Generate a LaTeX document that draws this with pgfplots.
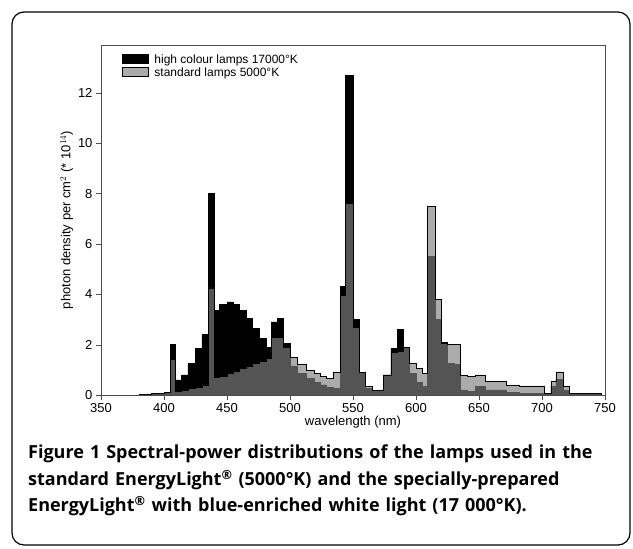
\documentclass[border=0pt]{standalone}
\usepackage{pgfplots}
\pgfplotsset{compat=1.18}
\usepackage{fontspec}
\setmainfont{Liberation Sans}
\newfontfamily\capfont{Open Sans}
\begin{document}
\begin{tikzpicture}[x=1pt,y=1pt]
\useasboundingbox (0,0) rectangle (633,549);
\draw[line width=1.2pt, rounded corners=12pt] (12,4) rectangle (630,537);
\begin{axis}[at={(101pt,154pt)}, anchor=south west, scale only axis,
  width=504pt, height=350pt,
  xmin=350, xmax=750, ymin=0, ymax=13.9,
  xtick={350,400,...,750}, ytick={0,2,...,12},
  tick pos=left, tick align=outside, major tick length=5pt,
  axis line style={gray!60!black}, tick style={gray!60!black},
  /pgf/number format/assume math mode=true,
  ticklabel style={font=\fontsize{13}{15}\selectfont},
  label style={font=\fontsize{13}{15}\selectfont},
  xlabel={wavelength (nm)}, ylabel={photon density per cm$^2$ (* 10$^{14}$)},
  xlabel style={yshift=4pt}, ylabel style={yshift=-2pt},
  legend style={at={(0.035,0.985)}, anchor=north west, draw=none, fill=none,
    font=\fontsize{12}{13}\selectfont, row sep=-1pt, legend cell align=left,
    nodes={inner xsep=6pt}},
  legend image code/.code={\draw[#1] (0,-4pt) rectangle (26pt,5pt);},
]
\addplot[const plot, fill=black, draw=black, line width=0.6pt] coordinates {
(380,0.02)(390,0.05)(400,0.1)(405,2.0)(409,0.6)(414,0.8)(419,1.25)(425,1.85)(430,2.4)
(435,8.0)(440,3.35)(444,3.6)(450,3.7)(455,3.6)(460,3.35)(465,3.05)(470,2.65)(476,2.25)
(481,1.9)(485,2.9)(490,3.05)(495,2.05)(500,1.15)(506,0.85)(513,0.65)(519,0.5)(524,0.4)
(529,0.3)(534,0.25)(540,4.3)(544,12.7)(550,3.0)(555,0.9)(560,0.25)(565,0.15)(574,0.8)
(580,1.85)(585,2.6)(590,1.9)(595,0.85)(600,0.5)(605,0.35)(609,5.5)(615,3.0)(620,2.1)
(625,1.25)(630,1.2)(635,0.2)(641,0.13)(647,0.35)(655,0.2)(672,0.1)(682,0.07)(702,0.05)
(707,0.35)(711,0.62)(717,0.17)(722,0.05)(747,0.05)(747,0)} \closedcycle;
\addlegendentry{high colour lamps 17000°K}
\addplot[const plot, fill=gray, fill opacity=0.66, draw=black, line width=0.6pt] coordinates {
(380,0.02)(390,0.05)(400,0.1)(405,1.4)(409,0.15)(414,0.2)(419,0.25)(425,0.3)(430,0.4)
(435,4.25)(440,0.7)(444,0.75)(450,0.85)(455,0.95)(460,1.05)(465,1.15)(470,1.25)(476,1.35)
(481,1.45)(485,2.3)(490,2.3)(495,1.9)(500,1.5)(506,1.2)(513,1.0)(519,0.85)(524,0.75)
(529,0.65)(534,0.9)(540,3.95)(544,7.6)(550,2.7)(555,0.9)(560,0.35)(565,0.2)(574,0.8)
(580,1.7)(585,1.75)(590,1.9)(595,1.25)(600,1.05)(605,0.85)(609,7.5)(615,3.8)(620,2.05)
(625,2.0)(630,2.0)(635,0.8)(641,0.73)(647,0.8)(655,0.53)(672,0.4)(682,0.36)(702,0.05)
(707,0.53)(711,0.92)(717,0.36)(722,0.05)(747,0.05)(747,0)} \closedcycle;
\addlegendentry{standard lamps 5000°K}
\end{axis}
\node[anchor=north west, align=left, text width=610pt, font=\capfont\bfseries\fontsize{18}{26.5}\selectfont, inner sep=0pt] at (28,104)
{Figure 1 Spectral-power distributions of the lamps used in the\\
standard EnergyLight\textsuperscript{®} (5000°K) and the specially-prepared\\
EnergyLight\textsuperscript{®} with blue-enriched white light (17 000°K).};
\end{tikzpicture}
\end{document}
